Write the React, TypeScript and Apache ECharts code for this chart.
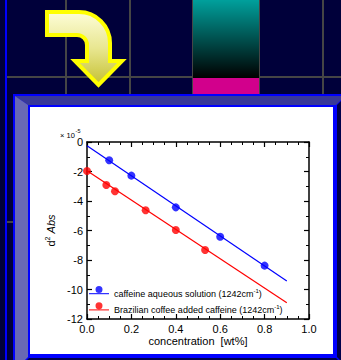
import React, { useEffect, useRef } from "react";
import * as echarts from "echarts";

// ---- data ----
const aqConc = [0.1, 0.2, 0.4, 0.6, 0.8];
const aqAbs = [-1.24, -2.28, -4.43, -6.42, -8.38];
const brConc = [0, 0.087, 0.126, 0.264, 0.4, 0.532];
const brAbs = [-1.97, -2.92, -3.34, -4.63, -5.97, -7.32];
const fitConc = [0, 0.9];
const aqFit = [-0.25, -9.42];
const brFit = [-1.95, -10.9];
const seriesNames = ["caffeine aqueous solution", "Brazilian coffee added caffeine"];
const bandLabel = "1242cm";
const bandExp = "-1";
const scaleLabel = "× 10";
const scaleExp = "-5";
const xName = "concentration  [wt%]";

const FONT = "'Liberation Sans', Arial, Helvetica, sans-serif";
const BLUE = "#0000ff";
const RED = "#ff0000";

const ARROW_D =
  "M47,12 L79,12 A31,31 0 0 1 110,43 L110,61 L122,61 L98.5,85 L75,61 L87,61 L87,45 A10,10 0 0 0 77,35 L47,35 Z";
echarts.graphic.registerShape("yarrow", echarts.graphic.extendPath(ARROW_D, {}));

const LEGEND_ICON =
  "path://M0,7 L20,7 L20,8.2 L0,8.2 Z M6.5,3.5 A3.5,3.5 0 1 1 13.5,3.5 A3.5,3.5 0 1 1 6.5,3.5 Z M10,15.2 L10,15.2";

const zip = (xs: number[], ys: number[]) => xs.map((x, i) => [x, ys[i]]);

const axisCommon = {
  type: "value" as const,
  z: 5,
  axisLine: { show: true, onZero: false, lineStyle: { color: "#000", width: 1.5 } },
  axisTick: { show: true, inside: true, length: 5, lineStyle: { color: "#000", width: 1.2 } },
  splitLine: { show: false },
};

export default function App() {
  const ref = useRef<HTMLDivElement>(null);
  useEffect(() => {
    if (!ref.current) return;
    const chart = echarts.init(ref.current, undefined, { renderer: "svg" });
    const vLines = [66, 130, 323];
    const option: any = {
      animation: false,
      backgroundColor: "#00003a",
      textStyle: { fontFamily: FONT },
      grid: { left: 87, top: 142, width: 222, height: 177, containLabel: false },
      graphic: [
        { type: "rect", z: 0, shape: { x: 5, y: 0, width: 2, height: 360 }, style: { fill: BLUE } },
        ...vLines.map((x) => ({
          type: "rect", z: 0, shape: { x: x - 1, y: 0, width: 2, height: 94 }, style: { fill: "#454545" },
        })),
        { type: "rect", z: 0, shape: { x: 7, y: 76, width: 334, height: 2 }, style: { fill: "#454545" } },
        { type: "rect", z: 0, shape: { x: 7, y: 221, width: 7, height: 2 }, style: { fill: "#454545" } },
        { type: "rect", z: 0, shape: { x: 192, y: 0, width: 68, height: 94 }, style: { fill: "#454545" } },
        {
          type: "rect", z: 0, shape: { x: 193, y: 0, width: 66, height: 78 },
          style: {
            fill: new echarts.graphic.LinearGradient(0, 0, 0, 1, [
              { offset: 0, color: "#00a09c" },
              { offset: 1, color: "#000000" },
            ]),
          },
        },
        { type: "rect", z: 0, shape: { x: 193, y: 78, width: 66, height: 16 }, style: { fill: "#d2008c" } },
        {
          type: "yarrow", z: 1, x: 0, y: 0,
          style: {
            fill: new echarts.graphic.LinearGradient(0, 0, 0, 1, [
              { offset: 0, color: "#fdfdd8" },
              { offset: 0.5, color: "#e8e690" },
              { offset: 1, color: "#c4c030" },
            ]),
            stroke: "#ffff00",
            lineWidth: 4,
            lineJoin: "miter",
          },
        },
        // panel
        { type: "rect", z: 1, shape: { x: 13, y: 94, width: 328, height: 266 }, style: { fill: BLUE } },
        { type: "polygon", z: 1, shape: { points: [[15, 96], [341, 96], [341, 100], [336, 105], [28, 105]] }, style: { fill: "#383898" } },
        { type: "polygon", z: 1, shape: { points: [[15, 96], [28, 105], [28, 357], [25, 360], [15, 360]] }, style: { fill: "#6868b4" } },
        { type: "polygon", z: 1, shape: { points: [[341, 101], [337, 105], [337, 357], [340, 360], [341, 360]] }, style: { fill: "#00004a" } },
        { type: "polygon", z: 1, shape: { points: [[29, 358], [336, 358], [338, 360], [27, 360]] }, style: { fill: "#00004a" } },
        { type: "rect", z: 2, shape: { x: 30, y: 107, width: 303, height: 247 }, style: { fill: "#ffffff" } },
        {
          type: "text", z: 6, x: 60, y: 135.5,
          style: {
            text: scaleLabel,
            fontSize: 7.5,
            fontFamily: FONT,
            fill: "#000",
            align: "left",
            verticalAlign: "middle",
          },
        },
        {
          type: "text", z: 6, x: 75.6, y: 130.5,
          style: {
            text: scaleExp,
            fontSize: 5.5,
            fontFamily: FONT,
            fill: "#000",
            align: "left",
            verticalAlign: "middle",
          },
        },
      ],
      legend: {
        orient: "vertical",
        left: 89,
        top: 286,
        padding: 0,
        itemGap: 1,
        itemWidth: 20,
        itemHeight: 15.2,
        selectedMode: false,
        z: 20,
        data: seriesNames.map((n) => ({ name: n, icon: LEGEND_ICON })),
        formatter: (name: string) => `{t|${name} (${bandLabel}}{s|${bandExp}}{t|)}`,
        textStyle: {
          fontFamily: FONT,
          fontSize: 9,
          color: "#000",
          rich: {
            t: { fontSize: 9, fontFamily: FONT, color: "#000", lineHeight: 12 },
            s: { fontSize: 6, fontFamily: FONT, color: "#000", lineHeight: 7, verticalAlign: "top" },
          },
        },
      },
      xAxis: [
        {
          ...axisCommon,
          min: 0, max: 1, interval: 0.2, position: "bottom",
          minorTick: { show: true, splitNumber: 4, length: 3, lineStyle: { color: "#000", width: 1 } },
          axisLabel: { color: "#000", fontSize: 11, fontFamily: FONT, margin: 4, formatter: (v: number) => v.toFixed(1) },
          name: xName,
          nameLocation: "middle",
          nameGap: 16,
          nameTextStyle: { color: "#000", fontSize: 11, fontFamily: FONT },
        },
        {
          ...axisCommon,
          min: 0, max: 1, interval: 0.2, position: "top",
          minorTick: { show: true, splitNumber: 4, length: 3, lineStyle: { color: "#000", width: 1 } },
          axisLabel: { show: false },
        },
      ],
      yAxis: [
        {
          ...axisCommon,
          min: -12, max: 0, interval: 2, position: "left",
          minorTick: { show: true, splitNumber: 2, length: 3, lineStyle: { color: "#000", width: 1 } },
          axisLabel: { color: "#000", fontSize: 11, fontFamily: FONT, margin: 4 },
          name: "{n|d}{s|2}{n| }{i|Abs}",
          nameLocation: "middle",
          nameRotate: 90,
          nameGap: 24,
          nameTextStyle: {
            color: "#000",
            fontSize: 11,
            fontFamily: FONT,
            rich: {
              n: { fontSize: 11, fontFamily: FONT, color: "#000", lineHeight: 13 },
              s: { fontSize: 7, fontFamily: FONT, color: "#000", lineHeight: 8, verticalAlign: "top" },
              i: { fontSize: 11, fontFamily: FONT, color: "#000", lineHeight: 13, fontStyle: "italic" },
            },
          },
        },
        {
          ...axisCommon,
          min: -12, max: 0, interval: 2, position: "right",
          minorTick: { show: true, splitNumber: 2, length: 3, lineStyle: { color: "#000", width: 1 } },
          axisLabel: { show: false },
        },
      ],
      series: [
        {
          name: seriesNames[0], type: "scatter", data: zip(aqConc, aqAbs),
          symbol: "circle", symbolSize: 8, itemStyle: { color: BLUE }, z: 10,
          xAxisIndex: 0, yAxisIndex: 0,
        },
        {
          name: seriesNames[1], type: "scatter", data: zip(brConc, brAbs),
          symbol: "circle", symbolSize: 8, itemStyle: { color: RED }, z: 10,
          xAxisIndex: 0, yAxisIndex: 0,
        },
        {
          name: "fit-aq", type: "line", data: zip(fitConc, aqFit), symbol: "none", showSymbol: false,
          lineStyle: { color: BLUE, width: 1.2 }, z: 9, xAxisIndex: 0, yAxisIndex: 0,
        },
        {
          name: "fit-br", type: "line", data: zip(fitConc, brFit), symbol: "none", showSymbol: false,
          lineStyle: { color: RED, width: 1.2 }, z: 9, xAxisIndex: 0, yAxisIndex: 0,
        },
      ],
    };
    chart.setOption(option);
    return () => chart.dispose();
  }, []);
  return (
    <div
      ref={ref}
      style={{ position: "absolute", left: 0, top: 0, width: 341, height: 360 }}
    />
  );
}
